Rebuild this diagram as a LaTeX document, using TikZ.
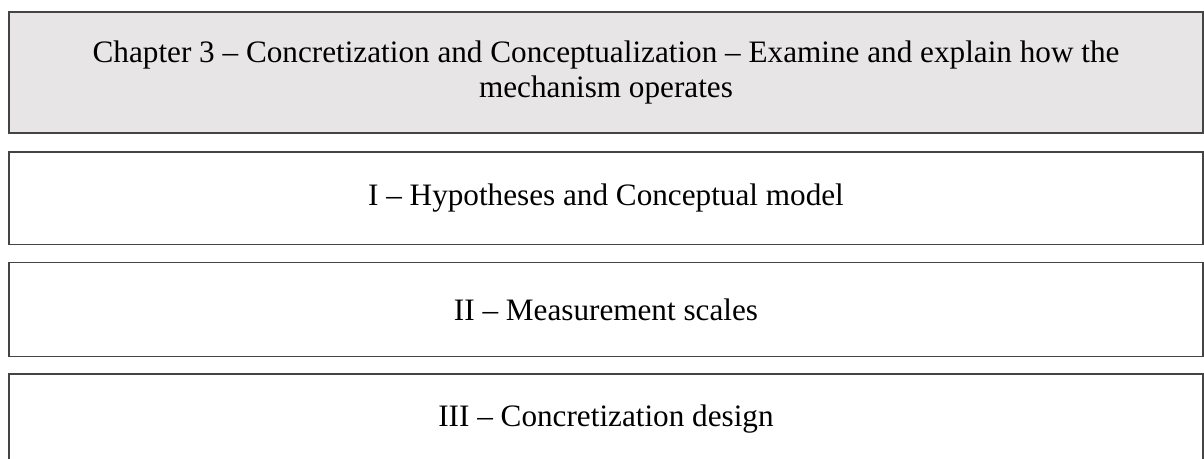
\documentclass[tikz,border=0pt]{standalone}
\usepackage{fontspec}
\setmainfont{Liberation Serif}
\definecolor{boxgray}{HTML}{E7E5E6}
\definecolor{edgegray}{HTML}{444444}
\tikzset{
  panel/.style={draw=edgegray, line width=1.2pt, rectangle, inner sep=0pt,
    minimum width=895.5pt, align=center, font=\fontsize{23.4}{26.5}\selectfont},
}
\begin{document}
\begin{tikzpicture}[x=0.75pt,y=-0.75pt]
\useasboundingbox (0,0) rectangle (1204,459);
\clip (0,0) rectangle (1204,459);
\node[panel, fill=boxgray, minimum height=90.75pt] (ch) at (606,72.5)
  {Chapter 3 -- Concretization and Conceptualization -- Examine and explain how the\\mechanism operates};
\node[panel, minimum height=69.4pt] (p1) at (606,198.2) {I -- Hypotheses and Conceptual model};
\node[panel, minimum height=70.5pt] (p2) at (606,309.7) {II -- Measurement scales};
\node[panel, minimum height=67.5pt] (p3) at (606,419) {III -- Concretization design};
\end{tikzpicture}
\end{document}
